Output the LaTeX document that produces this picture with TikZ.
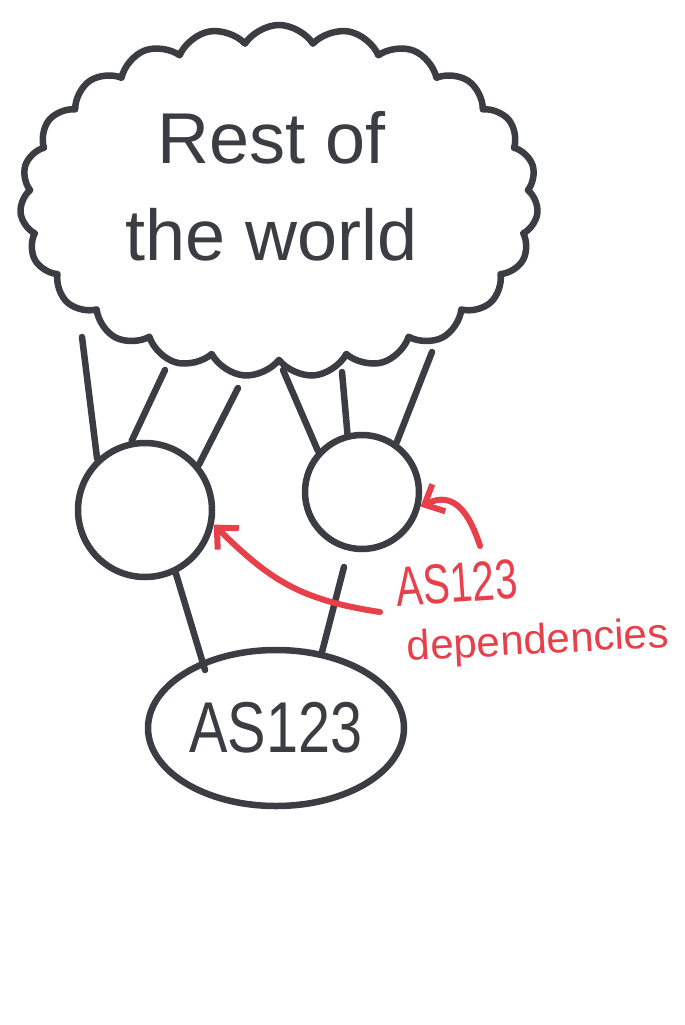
\documentclass[tikz,border=0pt]{standalone}
\usepackage{fontspec}
\setmainfont{Liberation Sans}
\usetikzlibrary{shapes.symbols,shapes.geometric,arrows.meta}
\definecolor{ink}{HTML}{3B3D42}
\definecolor{redink}{HTML}{E8404B}
\begin{document}
\begin{tikzpicture}[x=1pt,y=-1pt,
  pen/.style={draw=ink,line width=6.5pt,line cap=round,line join=round},
  redpen/.style={draw=redink,line width=6pt,line cap=round,line join=round},
  redarrow/.style={redpen,-{Straight Barb[length=16pt,width=30pt,line width=6pt]}},
  link/.style={pen},
]
\path[use as bounding box,fill=white] (0,0) rectangle (685,1025);

\node[pen,cloud,cloud puffs=23,cloud puff arc=115,aspect=1.45,
  minimum width=518pt,minimum height=352pt,inner sep=0pt] (world) at (279,201) {};
\node[text=ink,font=\fontsize{72}{97}\selectfont,align=center] (worldtxt) at (272,186) {Rest of\\the world};

\node[pen,circle,minimum size=134pt,inner sep=0pt] (L) at (145,510) {};
\node[pen,circle,minimum size=114pt,inner sep=0pt] (R) at (362,492) {};
\node[pen,ellipse,minimum width=256pt,minimum height=156pt,inner sep=0pt] (AS) at (276,728) {};
\node[text=ink,font=\fontsize{72}{80}\selectfont] (AStxt) at (276,728) {\scalebox{0.8}[1]{AS123}};

% cloud-side ends
\coordinate (c1) at (82,337);
\coordinate (c2) at (165,370);
\coordinate (c3) at (238,388);
\coordinate (c4) at (283,370);
\coordinate (c5) at (342,372);
\coordinate (c6) at (432,352);
\coordinate (r6) at (344,567);
\coordinate (e1) at (205,670);
\coordinate (e2) at (322,652);

\draw[link] (c1) -- (L.133);
\draw[link] (c2) -- (L.101);
\draw[link] (c3) -- (L.40);
\draw[link] (c4) -- (R.137);
\draw[link] (c5) -- (R.104);
\draw[link] (c6) -- (R.55);
\draw[link] (L.-64) -- (e1);
\draw[link] (r6) -- (e2);

\node[text=redink,font=\fontsize{56}{56}\selectfont,rotate=4] (lab1) at (457,583) {\scalebox{0.72}[1]{AS123}};
\node[text=redink,font=\fontsize{42}{42}\selectfont,rotate=3] (lab2) at (538,643) {dependencies};

\coordinate (a1s) at (380,612);
\coordinate (a2s) at (480,546);
\draw[redarrow] (a1s) .. controls (300,600) and (270,580) .. (L.-12);
\draw[redarrow] (a2s) .. controls (470,515) and (455,490) .. (R.-14);
\end{tikzpicture}
\end{document}
